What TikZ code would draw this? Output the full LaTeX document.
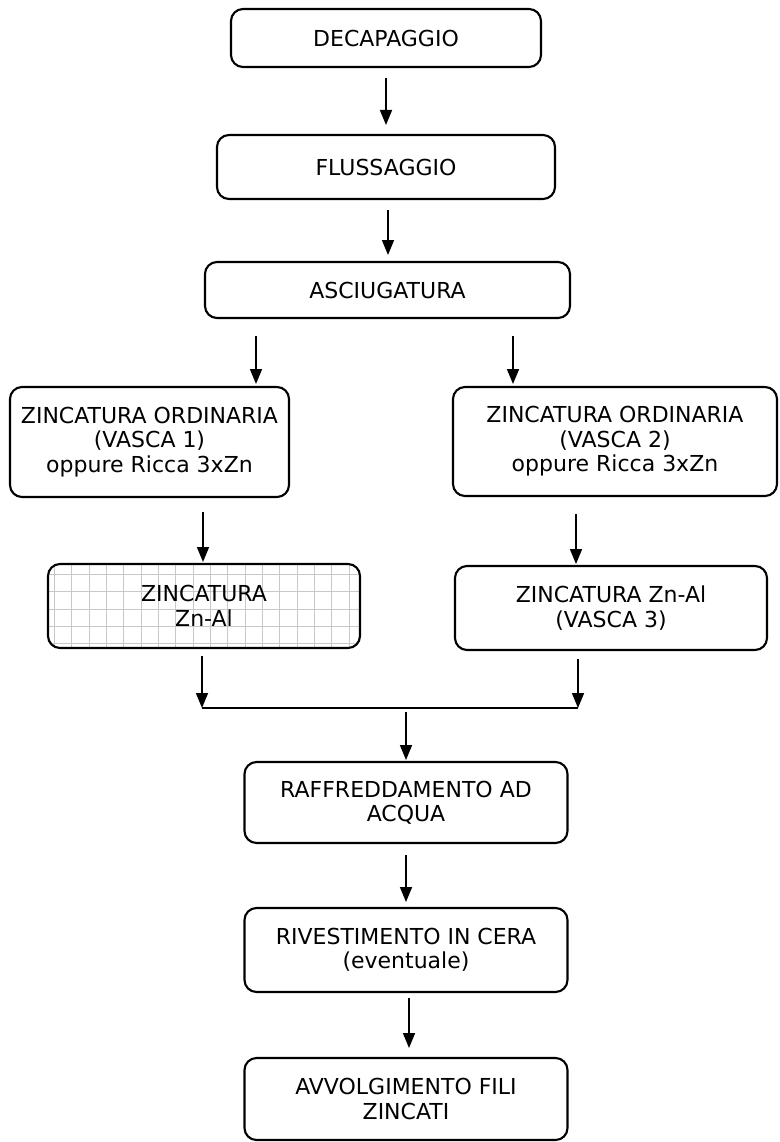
\documentclass[tikz,border=0pt]{standalone}
\usepackage{fontspec}
\setmainfont{DejaVu Sans}
\usepackage{tikz}
\usetikzlibrary{arrows.meta,positioning,calc}
\definecolor{gridgray}{RGB}{200,200,200}

\begin{document}
\begin{tikzpicture}[
    x=1pt, y=-1pt,
    font=\fontsize{22}{24.5}\selectfont,
    stepbox/.style={rectangle, rounded corners=12pt, draw=black, line width=2.1pt, fill=white, align=center, outer sep=0pt, inner sep=4pt},
    gridbox/.style={stepbox, path picture={\draw[gridgray, line width=1.1pt, step=17.33pt, yshift=3.3pt] ([shift={(-20pt,-20pt)}]path picture bounding box.south west) grid ([shift={(20pt,20pt)}]path picture bounding box.north east);}},
    arrow/.style={-{Triangle[length=15pt, width=12pt]}, line width=1.6pt},
    joinline/.style={line width=1.3pt}
  ]
    \useasboundingbox (0,0) rectangle (779,1142);

    \node[stepbox, minimum width=310pt, minimum height=58pt] (deca) at (386,38) {DECAPAGGIO};
    \node[stepbox, minimum width=338pt, minimum height=64pt, below=68pt of deca] (fluss) {FLUSSAGGIO};
    \node[stepbox, minimum width=365pt, minimum height=56pt, below=63pt of fluss, xshift=1.5pt] (asciug) {ASCIUGATURA};
    \node[stepbox, minimum width=279pt, minimum height=110pt, below=69pt of asciug, xshift=-238pt] (vascaA) {ZINCATURA ORDINARIA\\(VASCA 1)\\oppure Ricca 3xZn};
    \node[stepbox, minimum width=324pt, minimum height=109pt, below=69pt of asciug, xshift=227.5pt] (vascaB) {ZINCATURA ORDINARIA\\(VASCA 2)\\oppure Ricca 3xZn};
    \node[gridbox, minimum width=312pt, minimum height=84pt, below=67pt of vascaA, xshift=54.5pt] (znalA) {ZINCATURA\\Zn-Al};
    \node[stepbox, minimum width=312pt, minimum height=84pt, below=70pt of vascaB, xshift=-4pt] (znalB) {ZINCATURA Zn-Al\\(VASCA 3)};

    \coordinate (join) at (406,708);
    \coordinate (joinL) at (202,708);
    \coordinate (joinR) at (578,708);

    \node[stepbox, minimum width=323pt, minimum height=81pt, below=54pt of join] (raff) {RAFFREDDAMENTO AD\\ACQUA};
    \node[stepbox, minimum width=323pt, minimum height=84pt, below=65pt of raff] (riv) {RIVESTIMENTO IN CERA\\(eventuale)};
    \node[stepbox, minimum width=323pt, minimum height=82pt, below=66pt of riv] (avv) {AVVOLGIMENTO FILI\\ZINCATI};

    \draw[arrow, shorten <=11pt, shorten >=10pt] (deca) -- (fluss);
    \draw[arrow, shorten <=11pt, shorten >=7pt] ([xshift=2pt]fluss.south) -- ([xshift=2pt]fluss.south |- asciug.north);
    \draw[arrow, shorten <=18pt, shorten >=3pt] ([xshift=-131.5pt]asciug.south) -- ([xshift=-131.5pt]asciug.south |- vascaA.north);
    \draw[arrow, shorten <=18pt, shorten >=3pt] ([xshift=125.5pt]asciug.south) -- ([xshift=125.5pt]asciug.south |- vascaB.north);
    \draw[arrow, shorten <=15pt, shorten >=2pt] ([xshift=53.5pt]vascaA.south) -- ([xshift=53.5pt]vascaA.south |- znalA.north);
    \draw[arrow, shorten <=18pt, shorten >=2pt] ([xshift=-39pt]vascaB.south) -- ([xshift=-39pt]vascaB.south |- znalB.north);
    \draw[arrow, shorten <=8pt] (znalA.south -| joinL) -- (joinL);
    \draw[arrow, shorten <=9pt] (znalB.south -| joinR) -- (joinR);
    \draw[joinline] (joinL) -- (joinR);
    \draw[arrow, shorten <=4pt, shorten >=2pt] (join) -- (raff);
    \draw[arrow, shorten <=12pt, shorten >=6pt] (raff) -- (riv);
    \draw[arrow, shorten <=6pt, shorten >=10pt] ([xshift=3pt]riv.south) -- ([xshift=3pt]riv.south |- avv.north);
  \end{tikzpicture}
\end{document}
